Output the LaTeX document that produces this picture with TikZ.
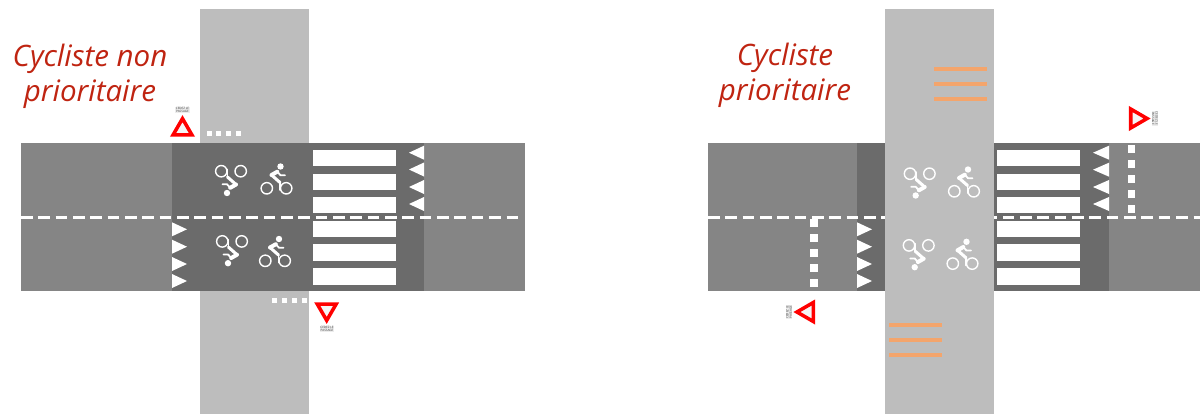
\documentclass[tikz,border=0pt]{standalone}
\usepackage{fontspec}
\setmainfont{Open Sans}
\usepackage{xcolor}
\definecolor{roadmid}{HTML}{858585}
\definecolor{roaddark}{HTML}{6B6B6B}
\definecolor{roadlight}{HTML}{BDBDBD}
\definecolor{titlered}{HTML}{BF2411}
\definecolor{bandorange}{HTML}{F4A56C}
\usetikzlibrary{arrows.meta, positioning, calc}
% Crossing stripes, x is the left edge
\newcommand{\zebra}[1]{
  \foreach \ytop in {149.5,174,197,221,244.3,268.3}
    \fill[white] (#1,\ytop) rectangle ++(83,16.2);
}
% Yield sign: x, y, rotation
\newcommand{\yieldsign}[3]{
  \draw[signtri, shift={(#1,#2)}, rotate=#3] (-9.47,5.47) -- (9.47,5.47) -- (0,-10.9) -- cycle;
}
% Cyclist icon: x, y, rotation
\newcommand{\cyclist}[3]{
  \begin{scope}[shift={(#1,#2)}, rotate=#3]
    \draw[wheel] (-9.7,10.3) circle (5.7);
    \draw[wheel] (9.7,10.3) circle (5.7);
    \fill[white] (4,-11.5) circle (3.2);
    \draw[white, line width=3.4pt, line cap=round] (0.8,-6.3) -- (-5,-3);
    \draw[white, line width=2.6pt, line join=round, line cap=round] (-5,-3) -- (3.5,4.5);
    \draw[white, line width=1.6pt, line cap=round] (3.5,4.5) -- (3.5,12);
    \draw[white, line width=1.6pt, line join=round, line cap=round] (1,-6) -- (4,-2.8) -- (8.5,-2.8);
  \end{scope}
}

\begin{document}
\begin{tikzpicture}[
    x=0.03cm, y=-0.03cm,
    % Title text
    titletext/.style={
      text=titlered, align=center, inner sep=0pt,
      font=\fontsize{25.2}{29.75}\selectfont\itshape
    },
    % Tiny text beside a sign
    signtext/.style={
      fill=gray!15, text=black!75, align=center, inner sep=0.3pt,
      font=\fontsize{2.6}{3}\selectfont
    },
    % Yield triangle
    signtri/.style={draw=red, fill=gray!8, line width=3pt, miter limit=10},
    wheel/.style={draw=white, line width=1.2pt},
    % Lane centre line
    centreline/.style={draw=white, line width=2.1pt, dash pattern=on 9.9pt off 4.9pt},
    % Orange band
    band/.style={draw=bandorange, line width=2.9pt}
  ]
  \useasboundingbox (0,0) rectangle (1200,414);

  % ============ Left crossing ============
  \fill[roadlight] (200,9) rectangle (309,414);
  \fill[roadmid] (21,143) rectangle (525,291);
  \fill[roaddark] (172,143) rectangle (424,291);
  \draw[centreline] (21,217.5) -- (523,217.5);
  \zebra{313}
  \foreach \ymid in {152.7,169.5,187,204}
    \fill[white] (424,\ymid-7) -- (424,\ymid+7) -- (409,\ymid) -- cycle;
  \foreach \ymid in {229.3,246.7,264,281}
    \fill[white] (172,\ymid-7) -- (172,\ymid+7) -- (187,\ymid) -- cycle;
  \foreach \xleft in {206.7,216.3,226,236}
    \fill[white] (\xleft,130.7) rectangle ++(5,5);
  \foreach \xleft in {272,282,292,302}
    \fill[white] (\xleft,298.3) rectangle ++(5,5);
  \cyclist{231}{181.5}{180}
  \cyclist{276.5}{178}{0}
  \cyclist{232}{251.7}{180}
  \cyclist{275}{250.5}{0}
  \yieldsign{182.5}{129.5}{0}
  \yieldsign{326.7}{309.5}{180}
  \node[signtext] (signa) at (182.5,110) {CEDEZ LE\\PASSAGE};
  \node[signtext] (signb) at (327,329) {CEDEZ LE\\PASSAGE};
  \node[titletext] (titleleft) at (90,76) {Cycliste non\\prioritaire};

  % ============ Right crossing ============
  \fill[roadmid] (708,143) rectangle (1200,291);
  \fill[roaddark] (857,143) rectangle (1109,291);
  \draw[centreline] (708,217.5) -- (1200,217.5);
  \fill[roadlight] (885,9) rectangle (994,414);
  \zebra{997}
  \foreach \ymid in {152.7,169.7,187,204}
    \fill[white] (1109,\ymid-7) -- (1109,\ymid+7) -- (1093,\ymid) -- cycle;
  \foreach \ymid in {229.3,246.7,264,281}
    \fill[white] (857,\ymid-7) -- (857,\ymid+7) -- (872,\ymid) -- cycle;
  \foreach \ytop in {145,160,175,190,205}
    \fill[white] (1127.5,\ytop) rectangle ++(7.5,7.5);
  \foreach \ytop in {219,234,249,264,279}
    \fill[white] (810,\ytop) rectangle ++(7.5,7.5);
  \foreach \ymid in {69,84,99}
    \draw[band] (934,\ymid) -- (987,\ymid);
  \foreach \ymid in {325,340,355}
    \draw[band] (889,\ymid) -- (942,\ymid);
  \cyclist{919.7}{184}{180}
  \cyclist{964}{181}{0}
  \cyclist{918.7}{255.7}{180}
  \cyclist{962.5}{253.3}{0}
  \yieldsign{1136.2}{118.5}{-90}
  \yieldsign{807.8}{312}{90}
  \node[signtext, rotate=-90] (signc) at (1155,118.5) {CEDEZ LE\\PASSAGE};
  \node[signtext, rotate=90] (signd) at (789,312) {CEDEZ LE\\PASSAGE};
  \node[titletext] (titleright) at (785,75.5) {Cycliste\\prioritaire};

\end{tikzpicture}
\end{document}
